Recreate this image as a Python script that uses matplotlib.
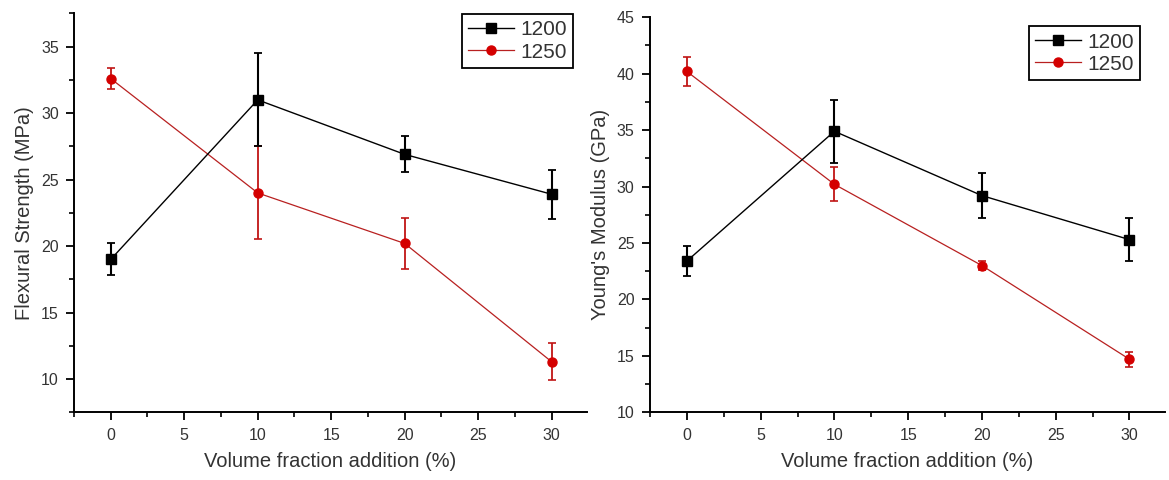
import matplotlib
matplotlib.use("Agg")
import matplotlib.pyplot as plt
from matplotlib.lines import Line2D
from matplotlib.ticker import MultipleLocator

plt.rcParams["font.family"] = ["Liberation Sans", "DejaVu Sans"]

# Data
volume = [0, 10, 20, 30]

flex_1200 = [19.0, 31.0, 26.9, 23.9]
flex_1200_err = [1.2, 3.5, 1.35, 1.85]
flex_1250 = [32.6, 24.0, 20.2, 11.3]
flex_1250_err = [0.8, 3.5, 1.9, 1.4]

young_1200 = [23.4, 34.9, 29.2, 25.3]
young_1200_err = [1.35, 2.8, 2.0, 1.9]
young_1250 = [40.2, 30.2, 23.0, 14.7]
young_1250_err = [1.25, 1.5, 0.4, 0.65]

labels = ["1200", "1250"]

text_col = "#333333"
red = "#d40000"
red_line = "#b82020"

fig = plt.figure(figsize=(11.69, 4.8), dpi=100)
ax1 = fig.add_axes([0.0633, 0.141, 0.4388, 0.831])
ax2 = fig.add_axes([0.556, 0.141, 0.4405, 0.823])


def draw(ax, y1, e1, y2, e2, ylabel, ylim, ymajor, legend_anchor):
    ax.errorbar(volume, y1, yerr=e1, color="black", marker="s", markersize=6.5,
                linewidth=1.0, elinewidth=1.5, capsize=3, capthick=1.3,
                zorder=3)
    ax.errorbar(volume, y2, yerr=e2, color=red_line, marker="o", markersize=6.5,
                markerfacecolor=red, markeredgecolor=red,
                linewidth=0.9, elinewidth=1.3, capsize=3, capthick=1.2,
                ecolor="#c01515", zorder=2)
    ax.set_xlim(-2.5, 32.4)
    ax.set_ylim(*ylim)
    ax.xaxis.set_major_locator(MultipleLocator(5))
    ax.xaxis.set_minor_locator(MultipleLocator(2.5))
    ax.yaxis.set_major_locator(MultipleLocator(ymajor))
    ax.yaxis.set_minor_locator(MultipleLocator(ymajor / 2))
    for side in ["top", "right"]:
        ax.spines[side].set_visible(False)
    for side in ["left", "bottom"]:
        ax.spines[side].set_linewidth(1.4)
    ax.tick_params(which="major", direction="out", length=6, width=1.3,
                   labelsize=11.5, labelcolor=text_col, pad=5)
    ax.tick_params(which="minor", direction="out", length=3.5, width=1.2)
    ax.set_xlabel("Volume fraction addition (%)", fontsize=14.5, color=text_col,
                  labelpad=7)
    ax.set_ylabel(ylabel, fontsize=14.5, color=text_col, labelpad=5)
    handles = [
        Line2D([], [], color="black", marker="s", markersize=6.5, linewidth=1.0),
        Line2D([], [], color=red_line, marker="o", markersize=6.5,
               markerfacecolor=red, markeredgecolor=red, linewidth=0.9),
    ]
    leg = ax.legend(handles, labels, loc="upper right",
                    bbox_to_anchor=legend_anchor,
                    fontsize=15, handlelength=2.2, handletextpad=0.3,
                    borderpad=0.3, labelspacing=0.15, fancybox=False,
                    framealpha=1, borderaxespad=0)
    leg.get_frame().set_edgecolor("black")
    leg.get_frame().set_linewidth(1.3)
    for t in leg.get_texts():
        t.set_color(text_col)


draw(ax1, flex_1200, flex_1200_err, flex_1250, flex_1250_err,
     "Flexural Strength (MPa)", (7.5, 37.5), 5, (0.973, 0.998))
draw(ax2, young_1200, young_1200_err, young_1250, young_1250_err,
     "Young's Modulus (GPa)", (10, 45), 5, (0.952, 0.977))

fig.savefig("out.png", dpi=100)
